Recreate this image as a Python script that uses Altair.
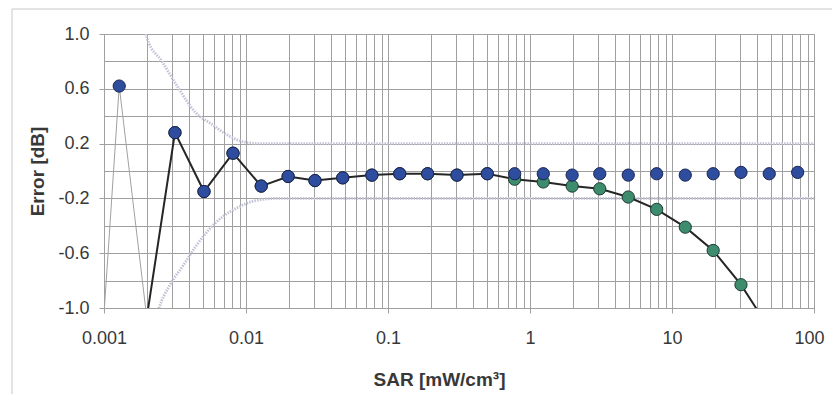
import altair as alt
import pandas as pd

# ---- data ----
# Compensated error (blue markers, no line)
BLUE_SAR = [0.00128, 0.00316, 0.00506, 0.0081, 0.0128, 0.0198, 0.0306, 0.048,
            0.077, 0.121, 0.19, 0.306, 0.5, 0.78, 1.24, 1.98, 3.1, 4.92, 7.8,
            12.4, 19.5, 30.6, 48.4, 76.7]
BLUE_ERR = [0.62, 0.28, -0.15, 0.13, -0.11, -0.04, -0.07, -0.05,
            -0.03, -0.02, -0.02, -0.03, -0.02, -0.02, -0.02, -0.03, -0.02, -0.03, -0.02,
            -0.03, -0.02, -0.01, -0.02, -0.01]

# Uncompensated error (green markers, black line)
GREEN_SAR = [0.002, 0.00316, 0.00506, 0.0081, 0.0128, 0.0198, 0.0306, 0.048,
             0.077, 0.121, 0.19, 0.306, 0.5, 0.78, 1.24, 1.98, 3.1, 4.92, 7.8,
             12.4, 19.5, 30.6, 48.4]
GREEN_ERR = [-1.07, 0.28, -0.15, 0.13, -0.11, -0.04, -0.07, -0.05,
             -0.03, -0.02, -0.02, -0.03, -0.02, -0.06, -0.08, -0.11, -0.13, -0.19, -0.28,
             -0.41, -0.58, -0.83, -1.15]

# Thin grey connecting line at the lowest SAR values
THIN_SAR = [0.000794, 0.00128, 0.002]
THIN_ERR = [-2.6, 0.62, -1.07]

# Uncertainty limits (dotted)
UPPER_SAR = [0.0019, 0.00201, 0.00256, 0.00332, 0.00438, 0.00577, 0.00746, 0.00984, 0.0122, 100]
UPPER_ERR = [1.06, 0.97, 0.80, 0.61, 0.43, 0.34, 0.26, 0.21, 0.20, 0.20]
LOWER_SAR = [0.0023, 0.00241, 0.00292, 0.00361, 0.0045, 0.00557, 0.00692, 0.00861, 0.0113, 0.0164, 100]
LOWER_ERR = [-1.10, -1.02, -0.83, -0.69, -0.54, -0.42, -0.33, -0.27, -0.22, -0.20, -0.20]

# axis ticks / labels
X_LABELS = [0.001, 0.01, 0.1, 1, 10, 100]
X_MINOR = [1, 2, 3, 4, 5, 6, 7, 8, 9]
Y_GRID = [1.0, 0.8, 0.6, 0.4, 0.2, 0.0, -0.2, -0.4, -0.6, -0.8, -1.0]
Y_LABELS = [1.0, 0.6, 0.2, -0.2, -0.6, -1.0]

X_GRID = [round(m * d, 6) for d in X_LABELS[:-1] for m in X_MINOR] + [X_LABELS[-1]]

FONT = "Liberation Sans"
GRID = "#a0a0a0"
TEXT = "#383838"

x_is_label = "indexof([" + ",".join(repr(v) for v in X_LABELS) + "], datum.value) >= 0"
y_is_label = "indexof([" + ",".join(repr(v) for v in Y_LABELS) + "], datum.value) >= 0"
x_is_last = f"datum.value >= {X_LABELS[-1]}"

x_axis = alt.Axis(
    values=X_GRID,
    labelExpr=f"{x_is_label} ? format(datum.value, '~g') : ''",
    title="SAR [mW/cm³]",
    grid=True, gridColor=GRID, gridWidth=1,
    domainColor=GRID, tickColor=GRID, tickSize=5,
    tickOpacity={"condition": {"test": x_is_label, "value": 1}, "value": 0},
    labelOffset={"condition": {"test": x_is_last, "value": -5}, "value": 0},
    labelFont=FONT, labelFontSize=18, labelColor=TEXT, labelPadding=16,
    labelFlush=False, labelOverlap=False,
    titleFont=FONT, titleFontSize=19, titleFontWeight="bold", titleColor=TEXT,
    titleX=335, titleY=77, titleBaseline="alphabetic", titleAlign="center",
)
y_axis = alt.Axis(
    values=Y_GRID,
    labelExpr=f"{y_is_label} ? (datum.value < 0 ? '-' : '') + format(abs(datum.value), '.1f') : ''",
    title="Error [dB]",
    grid=True, gridColor=GRID, gridWidth=1,
    domainColor=GRID, tickColor=GRID, tickSize=5,
    tickOpacity={"condition": {"test": y_is_label, "value": 1}, "value": 0},
    labelFont=FONT, labelFontSize=18, labelColor=TEXT, labelPadding=10,
    labelFlush=False, labelOverlap=False,
    titleFont=FONT, titleFontSize=19, titleFontWeight="bold", titleColor=TEXT,
    titleX=-67, titleY=137, titleAngle=-90, titleBaseline="middle", titleAlign="center",
)

x_enc = alt.X("sar:Q", scale=alt.Scale(type="log", domain=[0.001, 100], nice=False), axis=x_axis)
y_enc = alt.Y("err:Q", scale=alt.Scale(domain=[-1.0, 1.0], nice=False, zero=False), axis=y_axis)


def df(xs, ys):
    return pd.DataFrame({"sar": xs, "err": ys})


frame = alt.Chart(alt.Data(values=[{"a": 1}])).mark_rect(
    fill="transparent", stroke="#c8c8c8", strokeWidth=1
).encode(x=alt.value(-92), x2=alt.value(760), y=alt.value(-25), y2=alt.value(430))

upper = alt.Chart(df(UPPER_SAR, UPPER_ERR)).mark_line(
    clip=True, color="#c2c2d6", strokeWidth=2.8, strokeDash=[1.5, 1.2], interpolate="monotone"
).encode(x=x_enc, y=y_enc)

lower = alt.Chart(df(LOWER_SAR, LOWER_ERR)).mark_line(
    clip=True, color="#c2c2d6", strokeWidth=2.8, strokeDash=[1.5, 1.2], interpolate="monotone"
).encode(x=x_enc, y=y_enc)

thin = alt.Chart(df(THIN_SAR, THIN_ERR)).mark_line(
    clip=True, color="#a0a0a0", strokeWidth=1
).encode(x=x_enc, y=y_enc)

black = alt.Chart(df(GREEN_SAR, GREEN_ERR)).mark_line(
    clip=True, color="#262626", strokeWidth=2
).encode(x=x_enc, y=y_enc)

green_pts = alt.Chart(df(GREEN_SAR, GREEN_ERR)).mark_circle(
    clip=True, size=150, color="#3d8c6d", opacity=1, stroke="#1d3a33", strokeWidth=1
).encode(x=x_enc, y=y_enc)

blue_pts = alt.Chart(df(BLUE_SAR, BLUE_ERR)).mark_circle(
    clip=True, size=150, color="#2f4d9e", opacity=1, stroke="#1a2450", strokeWidth=1
).encode(x=x_enc, y=y_enc)

chart = alt.layer(frame, upper, lower, thin, black, green_pts, blue_pts).properties(
    width=710,
    height=274,
    padding={"left": 96, "top": 26, "right": 18, "bottom": 86},
    autosize=alt.AutoSizeParams(type="none"),
    background="white",
).configure_view(stroke=GRID, strokeWidth=1)

chart.save("out.html", embed_options={"renderer": "svg", "actions": False})
